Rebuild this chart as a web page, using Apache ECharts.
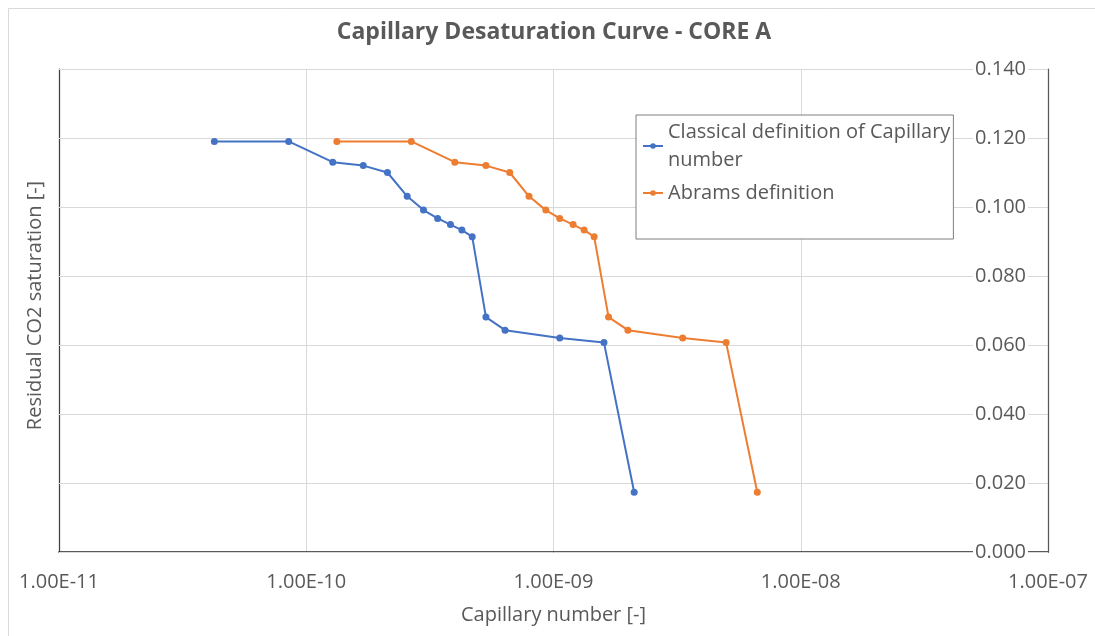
<!DOCTYPE html>
<html>
<head>
<meta charset="utf-8">
<title>Capillary Desaturation Curve - CORE A</title>
<script src="https://cdn.jsdelivr.net/npm/echarts@6/dist/echarts.min.js"></script>
<style>
  html, body { margin: 0; padding: 0; background: #ffffff; }
  #chart { width: 1095px; height: 636px; }
</style>
</head>
<body>
<div id="chart"></div>
<script>
// Capillary number for each flood step, two definitions
const classicalCa = [4.25e-11, 8.49e-11, 1.28e-10, 1.70e-10, 2.13e-10, 2.56e-10, 2.98e-10, 3.40e-10,
                     3.83e-10, 4.26e-10, 4.69e-10, 5.33e-10, 6.37e-10, 1.06e-9, 1.60e-9, 2.12e-9];
const abramsCa = [1.33e-10, 2.66e-10, 3.99e-10, 5.33e-10, 6.65e-10, 7.96e-10, 9.31e-10, 1.06e-9,
                  1.20e-9, 1.33e-9, 1.46e-9, 1.67e-9, 2.00e-9, 3.33e-9, 4.99e-9, 6.67e-9];
// Residual CO2 saturation measured at each step (shared by both curves)
const residualSat = [0.1190, 0.1190, 0.1130, 0.1120, 0.1100, 0.1031, 0.0991, 0.0967,
                     0.0949, 0.0933, 0.0914, 0.0681, 0.0643, 0.0620, 0.0607, 0.0173];

const seriesNames = ['Classical definition of Capillary number', 'Abrams definition'];
const xTickLabels = ['1.00E-11', '1.00E-10', '1.00E-09', '1.00E-08', '1.00E-07'];
const yTickLabels = ['0.000', '0.020', '0.040', '0.060', '0.080', '0.100', '0.120', '0.140'];

const FONT = '"Open Sans", "Noto Sans", sans-serif';
const TEXT = '#595959';
const GRID = '#d9d9d9';

const pairs = (xs, ys) => xs.map((x, i) => [x, ys[i]]);

const chart = echarts.init(document.getElementById('chart'), null, { renderer: 'canvas' });

chart.setOption({
  backgroundColor: '#ffffff',
  animation: false,
  textStyle: { fontFamily: FONT },
  graphic: [{
    type: 'rect',
    left: 6, top: 6,
    shape: { width: 1100, height: 640 },
    style: { fill: 'none', stroke: GRID, lineWidth: 1 },
    silent: true, z: -10
  }],
  title: {
    text: 'Capillary Desaturation Curve - CORE A',
    left: 554, top: 17, textAlign: 'center', padding: 0,
    textStyle: { fontFamily: FONT, fontSize: 23, fontWeight: 'bold', color: TEXT, lineHeight: 30 }
  },
  legend: {
    orient: 'vertical',
    left: 636, top: 115,
    padding: [3, 3, 32, 6],
    itemGap: 5,
    itemWidth: 20, itemHeight: 7,
    backgroundColor: '#ffffff',
    borderColor: '#7f7f7f', borderWidth: 1,
    textStyle: { fontFamily: FONT, fontSize: 20, color: TEXT, lineHeight: 28 },
    // long series name wraps onto a second line after "Capillary"
    formatter: name => name.replace(' of Capillary ', ' of Capillary\n'),
    data: seriesNames
  },
  grid: { left: 59, right: 47, top: 69, bottom: 84 },
  xAxis: [{
    type: 'log', logBase: 10, min: 1e-11, max: 1e-7,
    position: 'bottom',
    name: 'Capillary number [-]', nameLocation: 'middle', nameGap: 53,
    nameTextStyle: { fontFamily: FONT, fontSize: 20, color: TEXT },
    axisLine: { show: true, lineStyle: { color: GRID, width: 1 } },
    axisTick: { show: false },
    minorTick: { show: false },
    splitLine: { show: true, lineStyle: { color: GRID, width: 1 } },
    axisLabel: {
      fontFamily: FONT, fontSize: 20, color: TEXT, margin: 20,
      formatter: v => xTickLabels[Math.round(Math.log10(v)) + 11]
    }
  }, {
    type: 'log', logBase: 10, min: 1e-11, max: 1e-7,
    position: 'top',
    axisLine: { show: true, lineStyle: { color: '#262626', width: 1.5 } },
    axisTick: { show: false }, axisLabel: { show: false }, splitLine: { show: false }
  }],
  yAxis: [{
    type: 'value', min: 0, max: 0.14, interval: 0.02,
    position: 'right', z: 2,
    axisLine: { show: true, lineStyle: { color: '#595959', width: 1.25 } },
    axisTick: { show: false },
    splitLine: { show: true, lineStyle: { color: GRID, width: 1 } },
    axisLabel: {
      inside: true, margin: 20,
      fontFamily: FONT, fontSize: 20, color: TEXT,
      backgroundColor: '#ffffff', padding: [0, 2],
      formatter: v => yTickLabels[Math.round(v / 0.02)]
    }
  }, {
    type: 'value', min: 0, max: 0.14, interval: 0.02,
    position: 'left',
    name: 'Residual CO2 saturation [-]', nameLocation: 'middle', nameGap: 14,
    nameTextStyle: { fontFamily: FONT, fontSize: 20, color: TEXT, padding: [0, 0, 0, 10] },
    axisLine: { show: true, lineStyle: { color: '#404040', width: 1.25 } },
    axisTick: { show: false }, axisLabel: { show: false }, splitLine: { show: false }
  }],
  series: [{
    name: seriesNames[0],
    type: 'line',
    xAxisIndex: 0, yAxisIndex: 0,
    data: pairs(classicalCa, residualSat),
    symbol: 'circle', symbolSize: 7,
    itemStyle: { color: '#4472C4' },
    lineStyle: { color: '#4472C4', width: 2 },
    z: 3
  }, {
    name: seriesNames[1],
    type: 'line',
    xAxisIndex: 0, yAxisIndex: 0,
    data: pairs(abramsCa, residualSat),
    symbol: 'circle', symbolSize: 7,
    itemStyle: { color: '#ED7D31' },
    lineStyle: { color: '#ED7D31', width: 2 },
    z: 3
  }]
});
</script>
</body>
</html>
